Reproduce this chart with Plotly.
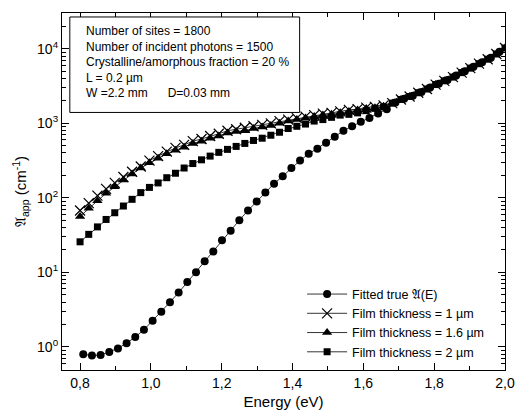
import numpy as np
import plotly.graph_objects as go

# ---- data (log10 of alpha) ----
energy_films = np.round(np.linspace(0.8, 2.0, 50), 4)
energy_true = np.round(0.809 + np.arange(49) * (1.2 / 49), 4)

log_true = [-0.10, -0.115, -0.11, -0.07, -0.02, 0.05, 0.133, 0.23, 0.35, 0.47,
            0.60, 0.73, 0.87, 1.00, 1.15, 1.28, 1.43, 1.56, 1.70, 1.83,
            1.95, 2.07, 2.19, 2.29, 2.40, 2.50, 2.59, 2.66, 2.74, 2.82,
            2.90, 2.96, 3.02, 3.07, 3.13, 3.19, 3.28, 3.33, 3.37, 3.42,
            3.48, 3.53, 3.58, 3.64, 3.70, 3.76, 3.82, 3.88, 3.96]

log_1um = [1.83, 1.93, 2.03, 2.12, 2.20, 2.28, 2.35, 2.42, 2.50, 2.56,
           2.62, 2.67, 2.71, 2.76, 2.79, 2.83, 2.86, 2.90, 2.92, 2.94,
           2.96, 2.98, 3.00, 3.03, 3.05, 3.07, 3.09, 3.11, 3.13, 3.14,
           3.16, 3.18, 3.19, 3.21, 3.22, 3.24, 3.27, 3.32, 3.36, 3.41,
           3.46, 3.52, 3.57, 3.62, 3.68, 3.74, 3.80, 3.86, 3.93, 4.01]

log_16um = [1.75, 1.86, 1.96, 2.06, 2.15, 2.24, 2.32, 2.40, 2.47, 2.53,
            2.59, 2.64, 2.68, 2.73, 2.76, 2.80, 2.83, 2.87, 2.89, 2.90,
            2.93, 2.95, 2.97, 3.00, 3.03, 3.05, 3.07, 3.09, 3.11, 3.12,
            3.14, 3.16, 3.18, 3.20, 3.21, 3.23, 3.27, 3.32, 3.36, 3.41,
            3.46, 3.52, 3.57, 3.62, 3.68, 3.74, 3.80, 3.86, 3.93, 4.01]

log_2um = [1.41, 1.51, 1.61, 1.71, 1.80, 1.89, 1.98, 2.07, 2.14, 2.20,
           2.27, 2.33, 2.40, 2.46, 2.51, 2.56, 2.61, 2.65, 2.69, 2.73,
           2.77, 2.80, 2.84, 2.88, 2.93, 2.96, 2.99, 3.03, 3.05, 3.08,
           3.11, 3.12, 3.14, 3.17, 3.20, 3.22, 3.27, 3.32, 3.36, 3.41,
           3.46, 3.52, 3.57, 3.62, 3.68, 3.74, 3.80, 3.86, 3.93, 4.01]

x_tickvals = [0.8, 1.0, 1.2, 1.4, 1.6, 1.8, 2.0]
x_ticktext = ["0,8", "1,0", "1,2", "1,4", "1,6", "1,8", "2,0"]
y_tickvals = [1, 10, 100, 1000, 10000]
y_ticktext = ["10<sup>0</sup>", "10<sup>1</sup>", "10<sup>2</sup>", "10<sup>3</sup>", "10<sup>4</sup>"]

info_lines = ["Number of sites = 1800",
              "Number of incident photons = 1500",
              "Crystalline/amorphous fraction = 20 %",
              "L = 0.2 \u00b5m",
              "W =2.2 mm      D=0.03 mm"]

ALPHA = "\U0001D504"

FONT = "Liberation Sans, Arial, sans-serif"

fig = go.Figure()
series = [
    (energy_true, log_true, "Fitted true " + ALPHA + "(E)", dict(symbol="circle", size=8, color="black")),
    (energy_films, log_1um, "Film thickness = 1 \u00b5m", dict(symbol="x-thin-open", size=10, color="black", line=dict(width=1.2, color="black"))),
    (energy_films, log_16um, "Film thickness = 1.6 \u00b5m", dict(symbol="triangle-up", size=9, color="black")),
    (energy_films, log_2um, "Film thickness = 2 \u00b5m", dict(symbol="square", size=7, color="black")),
]
for xs, ls, name, mk in series:
    fig.add_trace(go.Scatter(x=list(xs), y=[10 ** v for v in ls], mode="lines+markers",
                             name=name, marker=mk, line=dict(color="black", width=0.8)))

minor_y = []
for d in [0.1, 1, 10, 100, 1000, 10000]:
    for m in range(2, 10):
        minor_y.append(d * m)

fig.update_layout(
    width=524, height=416,
    margin=dict(l=62, r=9, t=13, b=44),
    paper_bgcolor="white", plot_bgcolor="white",
    font=dict(family=FONT, size=13, color="black"),
    showlegend=True,
    legend=dict(x=0.542, y=0.01, xanchor="left", yanchor="bottom", itemwidth=40,
                bgcolor="rgba(0,0,0,0)", font=dict(size=12.5), tracegroupgap=0),
    xaxis=dict(range=[0.749, 2.0], tickvals=x_tickvals, ticktext=x_ticktext,
               ticks="inside", ticklen=7, tickwidth=1, tickcolor="black",
               minor=dict(tickvals=[0.9, 1.1, 1.3, 1.5, 1.7, 1.9], ticks="inside", ticklen=4, tickcolor="black"),
               showline=True, linecolor="black", linewidth=1.2, mirror="ticks",
               showgrid=False, zeroline=False, tickfont=dict(size=14),
               title=dict(text="Energy (eV)", font=dict(size=15), standoff=6)),
    yaxis=dict(type="log", range=[-0.31, 4.48], tickvals=y_tickvals, ticktext=y_ticktext,
               ticks="inside", ticklen=7, tickwidth=1, tickcolor="black",
               minor=dict(tickvals=minor_y, ticks="inside", ticklen=4, tickcolor="black"),
               showline=True, linecolor="black", linewidth=1.2, mirror="ticks",
               showgrid=False, zeroline=False, tickfont=dict(size=14),
               title=dict(text=ALPHA + "<sub>app</sub> (cm<sup>-1</sup>)", font=dict(size=15), standoff=6)),
)

fig.add_shape(type="rect", xref="paper", yref="paper",
              x0=(70 - 62) / 453, x1=(305 - 62) / 453,
              y0=(372 - 113) / 359, y1=(372 - 17) / 359,
              line=dict(color="black", width=1), fillcolor="white", layer="above")
fig.add_annotation(xref="paper", yref="paper", x=(84 - 62) / 453, y=(372 - 22) / 359,
                   xanchor="left", yanchor="top", align="left", showarrow=False,
                   text="<br>".join(info_lines), font=dict(size=12, color="black"))

fig.write_html("out.html")
